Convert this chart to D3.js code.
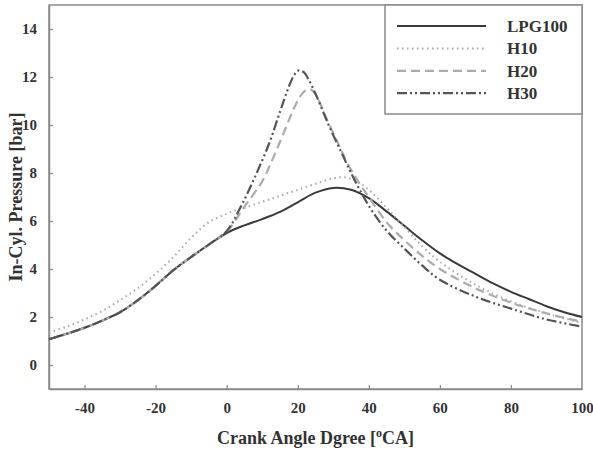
<!DOCTYPE html>
<html>
<head>
<meta charset="utf-8">
<script src="https://cdn.jsdelivr.net/npm/d3@7"></script>
<style>
  body { margin: 0; background: #fff; }
  text { font-family: "Liberation Serif", "Times New Roman", serif; font-weight: bold; fill: #333; }
</style>
</head>
<body>
<div id="chart"></div>
<script>
// crank angle [deg] for each curve
const angleLPG = [-50, -45, -40, -35, -30, -25, -20, -15, -10, -5, 0, 5, 10, 15, 20, 25, 30, 35, 40, 45, 50, 55, 60, 65, 70, 75, 80, 85, 90, 95, 100]
const pressureLPG = [1.07, 1.3, 1.55, 1.85, 2.2, 2.7, 3.3, 3.95, 4.5, 5.02, 5.5, 5.82, 6.08, 6.38, 6.78, 7.18, 7.38, 7.3, 6.95, 6.4, 5.8, 5.2, 4.65, 4.2, 3.8, 3.4, 3.05, 2.75, 2.45, 2.2, 2.0]

const angleH10 = [-50, -45, -40, -35, -30, -25, -20, -15, -10, -5, 0, 2, 5, 10, 15, 20, 25, 30, 33, 36, 40, 45, 50, 55, 60, 70, 80, 90, 100]
const pressureH10 = [1.35, 1.6, 1.9, 2.25, 2.7, 3.2, 3.8, 4.5, 5.3, 5.95, 6.3, 6.42, 6.55, 6.8, 7.05, 7.3, 7.55, 7.78, 7.82, 7.7, 7.3, 6.55, 5.75, 4.95, 4.3, 3.35, 2.65, 2.15, 1.75]

const angleH20 = [-50, -45, -40, -35, -30, -25, -20, -15, -10, -5, 0, 5, 10, 13, 16, 18.5, 20.5, 22, 23.2, 24.5, 26, 28, 31, 34, 37, 40, 45, 50, 55, 60, 70, 80, 90, 100]
const pressureH20 = [1.07, 1.3, 1.55, 1.85, 2.2, 2.7, 3.3, 3.95, 4.5, 5.02, 5.55, 6.6, 7.65, 8.6, 9.65, 10.55, 11.15, 11.42, 11.5, 11.38, 11.0, 10.3, 9.35, 8.4, 7.65, 7.0, 5.95, 5.2, 4.55, 4.0, 3.2, 2.6, 2.15, 1.8]

const angleH30 = [-50, -45, -40, -35, -30, -25, -20, -15, -10, -5, 0, 4, 8, 12, 15, 17, 18.7, 20.2, 21.7, 23.2, 25, 27, 29, 32, 35, 38, 41, 45, 50, 55, 60, 70, 80, 90, 100]
const pressureH30 = [1.07, 1.3, 1.55, 1.85, 2.2, 2.7, 3.3, 3.95, 4.5, 5.02, 5.58, 6.6, 7.85, 9.25, 10.55, 11.4, 12.0, 12.27, 12.2, 11.85, 11.3, 10.6, 9.9, 8.95, 8.0, 7.15, 6.4, 5.6, 4.85, 4.15, 3.55, 2.85, 2.35, 1.9, 1.6]

const seriesNames = ["LPG100", "H10", "H20", "H30"]
const xTicks = [-40, -20, 0, 20, 40, 60, 80, 100]
const yTicks = [0, 2, 4, 6, 8, 10, 12, 14]

const W = 593, H = 450
const MARGIN = { TOP: 5, RIGHT: 11, BOTTOM: 61, LEFT: 49 }

const styles = {
  LPG100: { stroke: "#3a3a3a", width: 2, dash: null },
  H10: { stroke: "#a8a8a8", width: 2, dash: "1.5,3.5" },
  H20: { stroke: "#acacac", width: 2.2, dash: "9,5" },
  H30: { stroke: "#555555", width: 2.2, dash: "10,3,2,3,2,3" }
}

const series = [
  { name: "LPG100", values: angleLPG.map((a, i) => ({ x: a, y: pressureLPG[i] })) },
  { name: "H10", values: angleH10.map((a, i) => ({ x: a, y: pressureH10[i] })) },
  { name: "H20", values: angleH20.map((a, i) => ({ x: a, y: pressureH20[i] })) },
  { name: "H30", values: angleH30.map((a, i) => ({ x: a, y: pressureH30[i] })) }
]

const svg = d3.select("#chart").append("svg")
  .attr("width", W)
  .attr("height", H)

const x = d3.scaleLinear().domain([-50, 100]).range([MARGIN.LEFT, W - MARGIN.RIGHT])
const y = d3.scaleLinear().domain([-1, 15]).range([H - MARGIN.BOTTOM, MARGIN.TOP])

// frame
svg.append("rect")
  .attr("x", x(-50)).attr("y", y(15))
  .attr("width", x(100) - x(-50)).attr("height", y(-1) - y(15))
  .attr("fill", "none").attr("stroke", "#8a8a8a").attr("stroke-width", 1.5)

// axes, ticks point inward
const xAxis = svg.append("g")
  .attr("transform", `translate(0, ${y(-1)})`)
  .call(d3.axisBottom(x).tickValues(xTicks).tickFormat(d => String(d))
    .tickSizeInner(-4).tickSizeOuter(0).tickPadding(13))
const yAxis = svg.append("g")
  .attr("transform", `translate(${x(-50)}, 0)`)
  .call(d3.axisLeft(y).tickValues(yTicks).tickFormat(d => String(d))
    .tickSizeInner(-4).tickSizeOuter(0).tickPadding(12))

svg.selectAll(".domain").attr("stroke", "#8a8a8a").attr("stroke-width", 1.5)
svg.selectAll(".tick line").attr("stroke", "#8a8a8a").attr("stroke-width", 1.2)
svg.selectAll(".tick text")
  .attr("font-size", 15)
  .attr("fill", "#333")
xAxis.selectAll(".tick").filter(d => d === 100).select("line").remove()

// curves
const line = d3.line()
  .x(d => x(d.x))
  .y(d => y(d.y))
  .curve(d3.curveCatmullRom.alpha(0.5))

svg.append("g").selectAll("path")
  .data(series)
  .join("path")
    .attr("d", d => line(d.values))
    .attr("fill", "none")
    .attr("stroke", d => styles[d.name].stroke)
    .attr("stroke-width", d => styles[d.name].width)
    .attr("stroke-dasharray", d => styles[d.name].dash)

// legend
const legend = svg.append("g")
legend.append("rect")
  .attr("x", 385).attr("y", y(15))
  .attr("width", x(100) - 385).attr("height", 109)
  .attr("fill", "#fff").attr("stroke", "#8a8a8a").attr("stroke-width", 1.5)

const items = legend.selectAll(".item")
  .data(seriesNames)
  .join("g")
    .attr("class", "item")
    .attr("transform", (d, i) => `translate(0, ${26 + i * 22.4})`)

items.append("line")
  .attr("x1", 397).attr("x2", 486)
  .attr("stroke", d => styles[d].stroke)
  .attr("stroke-width", d => styles[d].width)
  .attr("stroke-dasharray", d => styles[d].dash)

items.append("text")
  .attr("x", 507).attr("y", 6)
  .attr("font-size", 17)
  .text(d => d)

// axis titles
const xTitle = svg.append("text")
  .attr("x", (x(-50) + x(100)) / 2)
  .attr("y", 444)
  .attr("text-anchor", "middle")
  .attr("font-size", 18)
xTitle.append("tspan").text("Crank Angle Dgree [")
xTitle.append("tspan").attr("dy", -7).attr("font-size", 12).text("o")
xTitle.append("tspan").attr("dy", 7).text("CA]")

svg.append("text")
  .attr("transform", `translate(22, ${(y(-1) + y(15)) / 2}) rotate(-90)`)
  .attr("text-anchor", "middle")
  .attr("font-size", 18)
  .text("In-Cyl. Pressure [bar]")
</script>
</body>
</html>
